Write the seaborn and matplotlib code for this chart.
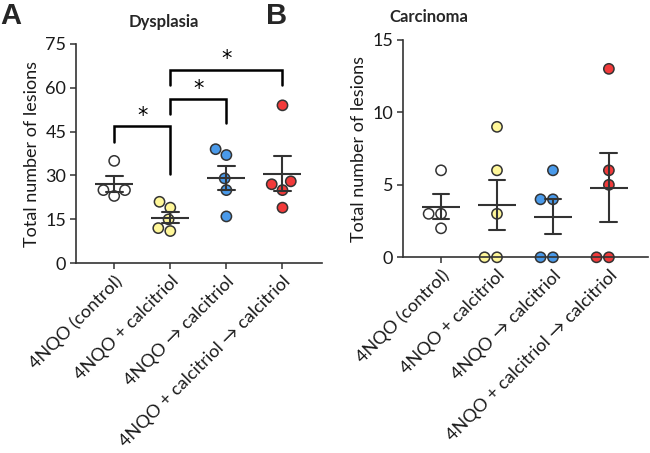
import numpy as np
import pandas as pd
import matplotlib
matplotlib.use('Agg')
import matplotlib.pyplot as plt
import seaborn as sns

GROUPS = ['4NQO (control)', '4NQO + calcitriol', '4NQO \u2192 calcitriol',
          '4NQO + calcitriol \u2192 calcitriol']
COLORS = ['#FFFFFF', '#FFF799', '#4A9AEA', '#F23A3A']

# lesion counts per animal
dysplasia_control = [35, 25, 23, 25]
dysplasia_calcitriol = [21, 19, 15, 11, 12]
dysplasia_then_calcitriol = [37, 39, 29, 25, 16]
dysplasia_both = [54, 27, 28, 25, 19]

carcinoma_control = [6, 3, 3, 2]
carcinoma_calcitriol = [9, 6, 3, 0, 0]
carcinoma_then_calcitriol = [6, 4, 4, 0, 0]
carcinoma_both = [13, 6, 5, 0, 0]

# significance brackets: (group i, group j, bar height, drop left, drop right)
DYS_BRACKETS = [(0, 1, 46.8, 41.4, 30.5),
                (1, 2, 56.0, 51.0, 48.0),
                (1, 3, 66.0, 61.0, 61.0)]

EDGE = '#333333'


def to_frame(series):
    rows = []
    for g, vals in zip(GROUPS, series):
        rows += [(g, v) for v in vals]
    return pd.DataFrame(rows, columns=['group', 'lesions'])


def draw_panel(ax, df, ymax, step):
    sns.swarmplot(data=df, x='group', y='lesions', hue='group', order=GROUPS,
                  hue_order=GROUPS, palette=COLORS, size=7.4, linewidth=1.1,
                  edgecolor=EDGE, legend=False, ax=ax, zorder=2, clip_on=False)
    sns.pointplot(data=df, x='group', y='lesions', order=GROUPS, errorbar='se',
                  capsize=0.3, color=EDGE, linestyle='none', marker='_',
                  markersize=27, markeredgewidth=1.5,
                  err_kws={'linewidth': 1.5}, ax=ax, zorder=3)
    ax.set_ylim(0, ymax)
    ax.set_yticks(np.arange(0, ymax + 0.1, step))
    ax.set_xlim(-0.68, 3.7)
    ax.set_xlabel('')
    ax.set_ylabel('Total number of lesions', fontsize=13, color='#1a1a1a',
                  labelpad=4)
    ax.set_xticks(range(len(GROUPS)))
    ax.set_xticklabels(GROUPS, rotation=45, ha='right', rotation_mode='anchor',
                       fontsize=13)
    ax.tick_params(axis='both', colors=EDGE, labelcolor='#1a1a1a', length=4,
                   width=1.1, labelsize=13, pad=3)
    for side in ['left', 'bottom']:
        ax.spines[side].set_color(EDGE)
        ax.spines[side].set_linewidth(1.2)
    sns.despine(ax=ax)


sns.set_theme(style='ticks')
plt.rcParams['font.family'] = ['Lato', 'DejaVu Sans']

fig = plt.figure(figsize=(6.5, 4.53), dpi=100)
axA = fig.add_axes([0.117, 0.419, 0.378, 0.484])
axB = fig.add_axes([0.620, 0.432, 0.377, 0.480])

dys = to_frame([dysplasia_control, dysplasia_calcitriol,
                dysplasia_then_calcitriol, dysplasia_both])
car = to_frame([carcinoma_control, carcinoma_calcitriol,
                carcinoma_then_calcitriol, carcinoma_both])

draw_panel(axA, dys, 75, 15)
draw_panel(axB, car, 15, 5)

for i, j, top, yl, yr in DYS_BRACKETS:
    axA.plot([i, i, j, j], [yl, top, top, yr], color='black', lw=1.8,
             solid_joinstyle='miter', zorder=4)
    axA.text((i + j) / 2, top + 0.3, '*', ha='center', va='bottom',
             fontsize=15, color='black', family='DejaVu Sans')

fig.text(0.252, 0.952, 'Dysplasia', ha='center', va='center',
         fontsize=12, fontweight='bold')
fig.text(0.660, 0.962, 'Carcinoma', ha='center', va='center',
         fontsize=12, fontweight='bold')
fig.text(0.0, 0.995, 'A', ha='left', va='top', fontsize=21, fontweight='bold',
         family='Liberation Sans')
fig.text(0.41, 0.995, 'B', ha='left', va='top', fontsize=21, fontweight='bold',
         family='Liberation Sans')

fig.savefig('out.png', dpi=100)
